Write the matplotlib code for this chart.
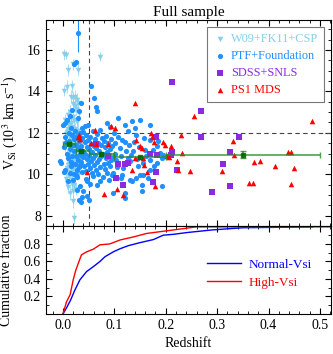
import numpy as np
import matplotlib
matplotlib.use('Agg')
import matplotlib.pyplot as plt
from matplotlib.ticker import MultipleLocator

plt.rcParams['font.family'] = ['Liberation Serif', 'DejaVu Serif']
plt.rcParams['mathtext.fontset'] = 'stix'

# W09+FK11+CSP (light blue down triangles)
w09_z = [0.003, 0.006, 0.072, 0.009, 0.029, 0.019, 0.007, 0.018, 0.003, 0.021, 0.019, 0.006,
         0.016, 0.020, 0.024, 0.028, 0.030, 0.019, 0.023, 0.026, 0.014, 0.031,
         0.010, 0.015, 0.021, 0.027, 0.012, 0.018, 0.024, 0.029, 0.008,
         0.006, 0.011, 0.016, 0.022, 0.027, 0.009, 0.014, 0.019, 0.025, 0.030, 0.012, 0.017, 0.005, 0.033,
         0.007, 0.013, 0.018, 0.023, 0.028, 0.010, 0.015, 0.020, 0.026, 0.031, 0.011, 0.016, 0.022, 0.035,
         0.012, 0.017, 0.021, 0.025, 0.014, 0.008, 0.019,
         0.004, 0.009, 0.013, 0.017, 0.021, 0.024, 0.027, 0.008, 0.012, 0.020, 0.025, 0.015, 0.019,
         0.029, 0.032, 0.010, 0.018, 0.022, 0.014, 0.026]
w09_v = [15.79, 15.76, 15.68, 15.04, 15.05, 15.30, 14.23, 14.24, 14.04, 7.89, 8.69, 9.78,
         13.75, 13.70, 13.72, 13.60, 13.45, 13.40, 13.30, 13.15, 13.00, 12.95,
         12.85, 12.70, 12.60, 12.50, 12.40, 12.30, 12.20, 12.10, 12.05,
         11.95, 11.85, 11.75, 11.65, 11.55, 11.45, 11.35, 11.25, 11.15, 11.05, 11.00, 11.70, 11.30, 11.40,
         10.95, 10.85, 10.75, 10.65, 10.55, 10.45, 10.35, 10.25, 10.15, 10.05, 10.60, 10.10, 10.90, 10.70,
         9.90, 9.70, 9.50, 9.30, 9.10, 9.60, 9.20,
         12.60, 12.20, 11.60, 11.10, 10.60, 10.40, 10.00, 10.30, 10.80, 11.90, 11.90, 12.45, 12.75,
         11.35, 10.35, 9.40, 9.55, 9.95, 10.55, 10.85]
w09_err = [0.25, 0.2, 0.2, 0.3, 0.3, 0.25, 0.3, 0.3, 0.25, 0.3, 0.3, 0.3,
           0.3, 0.3, 0.35, 0.3, 0.3, 0.35, 0.3, 0.3, 0.35, 0.3,
           0.3, 0.35, 0.3, 0.3, 0.35, 0.3, 0.3, 0.35, 0.3,
           0.3, 0.35, 0.3, 0.3, 0.35, 0.3, 0.3, 0.35, 0.3, 0.3, 0.35, 0.3, 0.3, 0.35,
           0.3, 0.35, 0.3, 0.3, 0.35, 0.3, 0.3, 0.35, 0.3, 0.3, 0.35, 0.3, 0.3, 0.35,
           0.3, 0.35, 0.3, 0.3, 0.35, 0.3, 0.3,
           0.3, 0.35, 0.3, 0.3, 0.35, 0.3, 0.3, 0.35, 0.3, 0.3, 0.35, 0.3, 0.3,
           0.35, 0.3, 0.3, 0.35, 0.3, 0.3, 0.35]

# PTF+Foundation (blue circles)
ptf_z = [0.025, 0.021, 0.054, 0.061, 0.064, 0.067, 0.036, 0.032, 0.017, 0.014, 0.030, 0.007,
         0.086, 0.091, 0.108, 0.121, 0.134, 0.150, 0.169, 0.043, 0.048, 0.001, 0.016, 0.040,
         0.140, 0.127, 0.143, 0.169,
         0.059, 0.072, 0.047, 0.033, 0.027, 0.040, 0.047, 0.032, 0.036, 0.051, 0.038, 0.066,
         0.098, 0.114, 0.134, 0.153, 0.192, 0.150, 0.166, 0.169, 0.182, 0.020, 0.010, 0.014,
         0.004, 0.025, 0.121, 0.121, 0.153, 0.130, 0.143, 0.156, 0.097, 0.114, 0.192, 0.189, 0.182,
         -0.003, -0.006, 0.004, 0.002, 0.005, 0.008, 0.010, 0.012, 0.013, 0.015, 0.017, 0.018,
         0.019, 0.003, 0.006, 0.011, 0.016,
         0.021, 0.022, 0.023, 0.024, 0.025, 0.026, 0.027, 0.028, 0.029, 0.030, 0.031, 0.032,
         0.033, 0.034, 0.035, 0.036, 0.037, 0.038, 0.039, 0.040, 0.022, 0.028, 0.034, 0.038,
         0.041, 0.042, 0.043, 0.044, 0.045, 0.046, 0.047, 0.048, 0.049, 0.050, 0.051, 0.052,
         0.053, 0.054, 0.055, 0.056, 0.057, 0.058, 0.059, 0.060, 0.044, 0.053,
         0.061, 0.062, 0.063, 0.064, 0.065, 0.066, 0.067, 0.068, 0.069, 0.070, 0.071, 0.072,
         0.073, 0.074, 0.075, 0.076, 0.077, 0.078, 0.079, 0.080,
         0.081, 0.082, 0.083, 0.084, 0.085, 0.086, 0.087, 0.088, 0.089, 0.090, 0.091, 0.092,
         0.093, 0.094, 0.095, 0.096, 0.097, 0.099,
         0.101, 0.104, 0.111, 0.117, 0.121, 0.130, 0.102, 0.106, 0.108, 0.112, 0.115, 0.119,
         0.123, 0.126, 0.128, 0.113,
         0.137, 0.146, 0.160, 0.169, 0.133, 0.139, 0.144, 0.148, 0.155, 0.158, 0.162, 0.175,
         0.178, 0.185, 0.195]
ptf_v = [15.41, 15.30, 14.27, 13.67, 13.27, 13.03, 13.46, 13.03, 13.11, 12.79, 12.71, 12.63,
         12.47, 12.30, 12.71, 12.39, 12.55, 12.63, 12.39, 12.34, 12.40, 12.39, 12.23, 12.06,
         12.23, 12.11, 11.90, 11.66,
         9.90, 9.65, 9.65, 9.41, 9.25, 9.17, 8.93, 8.77, 8.67, 8.77, 8.90, 9.49,
         9.09, 9.49, 9.65, 9.49, 9.41, 9.98, 9.82, 10.22, 10.54, 9.73, 9.65, 10.06,
         10.22, 9.98, 9.09, 8.85, 9.17, 9.73, 9.82, 9.98, 10.06, 9.98, 10.78, 11.02, 11.34,
         10.54, 10.65, 12.47, 11.30, 11.80, 11.00, 10.80, 11.60, 11.20, 10.40, 11.90, 10.90,
         11.40, 10.10, 11.55, 12.00, 10.60,
         11.70, 11.10, 10.50, 12.10, 10.90, 11.40, 10.20, 11.85, 10.70, 11.20, 10.35, 11.60,
         10.95, 12.00, 10.60, 11.35, 10.10, 11.75, 10.85, 11.10, 10.00, 9.85, 10.45, 12.25,
         10.40, 11.55, 11.00, 10.15, 11.90, 10.75, 11.30, 10.50, 11.65, 10.90, 11.20, 10.30,
         11.80, 10.65, 11.45, 10.05, 11.05, 12.10, 10.80, 11.35, 9.75, 9.55,
         10.45, 11.70, 10.95, 10.20, 11.25, 11.95, 10.60, 11.50, 10.00, 11.10, 10.75, 12.15,
         10.35, 11.40, 10.90, 11.75, 9.85, 11.00, 10.50, 11.60,
         10.25, 11.30, 10.80, 11.85, 10.05, 11.05, 10.55, 11.50, 9.70, 10.95, 11.20, 10.40,
         11.70, 10.70, 9.95, 11.35, 10.85, 12.00,
         11.50, 10.70, 11.26, 10.30, 11.58, 10.62, 11.00, 10.35, 11.80, 10.90, 11.65, 10.50,
         11.10, 10.80, 11.40, 9.80,
         11.10, 10.38, 11.18, 10.70, 10.95, 11.55, 10.75, 11.30, 10.55, 11.75, 10.90, 11.15,
         10.40, 11.60, 10.95]
# the one PTF point with a large error bar
ptf_out_z = [0.029]
ptf_out_v = [16.82]
ptf_out_err = [0.9]

# SDSS+SNLS (purple squares)
sdss_z = [0.064, 0.088, 0.103, 0.117, 0.108, 0.121, 0.126, 0.169, 0.181, 0.175, 0.181, 0.183,
          0.213, 0.211, 0.221, 0.213, 0.268, 0.268, 0.342, 0.325, 0.312, 0.324, 0.290]
sdss_v = [11.45, 10.89, 9.82, 9.49, 10.50, 10.50, 10.52, 10.99, 11.80, 9.62, 10.09, 10.94,
          11.06, 10.91, 10.22, 14.45, 13.06, 11.79, 11.79, 11.07, 10.47, 9.41, 9.12]

# PS1 MDS (red triangles)
ps1_z = [0.030, 0.032, 0.033, 0.046, 0.054, 0.064, 0.062, 0.093, 0.101, 0.141, 0.088, 0.080,
         0.106, 0.117, 0.134, 0.143, 0.150, 0.153, 0.171, 0.173, 0.177, 0.156, 0.158, 0.163,
         0.180, 0.195, 0.198, 0.202, 0.140, 0.254, 0.484, 0.230, 0.211, 0.206, 0.231, 0.221,
         0.224, 0.248, 0.309, 0.330, 0.333, 0.372, 0.383, 0.412, 0.438, 0.443, 0.450, 0.361,
         0.369, 0.443]
ps1_v = [11.79, 11.90, 11.70, 10.13, 11.50, 11.47, 12.14, 12.34, 12.23, 13.45, 11.45, 9.06,
         9.31, 9.01, 10.22, 11.66, 11.34, 11.26, 11.99, 11.82, 11.58, 10.78, 10.46, 10.13,
         9.41, 11.58, 11.42, 10.86, 10.78, 12.79, 12.55, 11.90, 11.37, 10.83, 11.02, 10.62,
         10.22, 10.18, 10.18, 11.61, 10.94, 10.59, 10.62, 10.38, 11.07, 11.07, 10.30, 9.58,
         9.58, 9.54]

# binned means
bin_z = [0.011, 0.036, 0.075, 0.150, 0.351]
bin_lo = [0.0, 0.025, 0.05, 0.10, 0.20]
bin_hi = [0.023, 0.05, 0.10, 0.20, 0.50]
bin_v = [11.48, 11.10, 10.97, 10.81, 10.94]
bin_err = [0.08, 0.08, 0.07, 0.07, 0.16]

# cumulative fractions
norm_z = [0.0, 0.007, 0.015, 0.023, 0.033, 0.046, 0.059, 0.072, 0.082, 0.098, 0.111, 0.127,
          0.150, 0.176, 0.195, 0.215, 0.241, 0.29, 0.35, 0.485]
norm_f = [0.0, 0.07, 0.16, 0.27, 0.39, 0.485, 0.54, 0.60, 0.655, 0.71, 0.745, 0.78,
          0.815, 0.85, 0.90, 0.91, 0.93, 0.96, 0.985, 0.995]
high_z = [0.0, 0.007, 0.014, 0.020, 0.025, 0.030, 0.036, 0.046, 0.059, 0.072, 0.091, 0.111,
          0.137, 0.163, 0.189, 0.215, 0.26, 0.53]
high_f = [0.0, 0.14, 0.22, 0.39, 0.50, 0.58, 0.675, 0.71, 0.74, 0.79, 0.80, 0.845,
          0.88, 0.92, 0.94, 0.96, 0.995, 0.995]

fig = plt.figure(figsize=(3.33, 3.54), dpi=100)
ax1 = fig.add_axes([0.138, 0.3616, 0.857, 0.582])
ax2 = fig.add_axes([0.138, 0.113, 0.857, 0.2486])

ax1.errorbar(ptf_out_z, ptf_out_v, yerr=ptf_out_err, fmt='none', ecolor='dodgerblue', elinewidth=0.8)
ax1.errorbar(w09_z, w09_v, yerr=w09_err, fmt='none', ecolor='skyblue', elinewidth=0.6, alpha=0.8, zorder=1)
ax1.scatter(w09_z, w09_v, marker='v', s=16, color='skyblue', lw=0, label='W09+FK11+CSP', zorder=2)
ax1.scatter(ptf_z + ptf_out_z, ptf_v + ptf_out_v, marker='o', s=14, color='dodgerblue', lw=0,
            label='PTF+Foundation', zorder=3)
ax1.scatter(sdss_z, sdss_v, marker='s', s=14, color='blueviolet', lw=0, label='SDSS+SNLS', zorder=4)
ax1.scatter(ps1_z, ps1_v, marker='^', s=16, color='red', lw=0, label='PS1 MDS', zorder=4)

xerr = [np.array(bin_z) - np.array(bin_lo), np.array(bin_hi) - np.array(bin_z)]
ax1.errorbar(bin_z, bin_v, xerr=xerr, yerr=bin_err, fmt='s', ms=3.5, color='darkgreen',
             ecolor='forestgreen', elinewidth=1.2, capsize=2, alpha=0.8, zorder=5)

ax1.axvline(0.05, color='#444444', ls='--', lw=0.8, dashes=(4, 3))
ax1.axhline(12, color='#444444', ls='--', lw=0.8, dashes=(4, 3))

ax1.set_xlim(-0.033, 0.522)
ax1.set_ylim(7.5, 17.45)
ax1.set_ylabel(r'V$_{\rm Si}$ (10$^3$ km s$^{-1}$)', fontsize=10)
ax1.yaxis.set_label_coords(-0.095, 0.5)
ax1.set_title('Full sample', fontsize=11, pad=3)
ax1.xaxis.set_major_locator(MultipleLocator(0.1))
ax1.xaxis.set_minor_locator(MultipleLocator(0.02))
ax1.yaxis.set_major_locator(MultipleLocator(2))
ax1.yaxis.set_minor_locator(MultipleLocator(0.5))
ax1.tick_params(labelbottom=False)

leg = ax1.legend(loc='upper right', fontsize=8.8, frameon=True, fancybox=False,
                 edgecolor='#555555', handletextpad=0.4, handlelength=1.0,
                 borderaxespad=0.6, labelspacing=0.4, borderpad=0.5)
leg.get_frame().set_linewidth(0.8)
for t, c in zip(leg.get_texts(), ['skyblue', 'dodgerblue', 'blueviolet', 'red']):
    t.set_color(c)

ax2.plot(norm_z, norm_f, color='blue', lw=1, label='Normal-Vsi')
ax2.plot(high_z, high_f, color='red', lw=1, label='High-Vsi')
ax2.set_xlim(-0.033, 0.522)
ax2.set_ylim(0, 1.005)
ax2.set_yticks([0.2, 0.4, 0.6, 0.8])
ax2.xaxis.set_major_locator(MultipleLocator(0.1))
ax2.xaxis.set_minor_locator(MultipleLocator(0.02))
ax2.yaxis.set_minor_locator(MultipleLocator(0.1))
ax2.set_xlabel('Redshift', fontsize=10)
ax2.set_ylabel('Cumulative fraction', fontsize=10)
ax2.yaxis.set_label_coords(-0.115, 0.5)
leg2 = ax2.legend(loc='upper left', bbox_to_anchor=(0.545, 0.69), fontsize=9.5, frameon=False,
                  handlelength=2.6, handletextpad=0.6, labelspacing=0.45, borderaxespad=0)
for t, c in zip(leg2.get_texts(), ['blue', 'red']):
    t.set_color(c)

for ax in (ax1, ax2):
    ax.tick_params(which='both', direction='in', top=True, right=True, labelsize=10)
    ax.tick_params(which='major', length=4, width=0.8)
    ax.tick_params(which='minor', length=2, width=0.6)

fig.savefig('out.png', dpi=100)
